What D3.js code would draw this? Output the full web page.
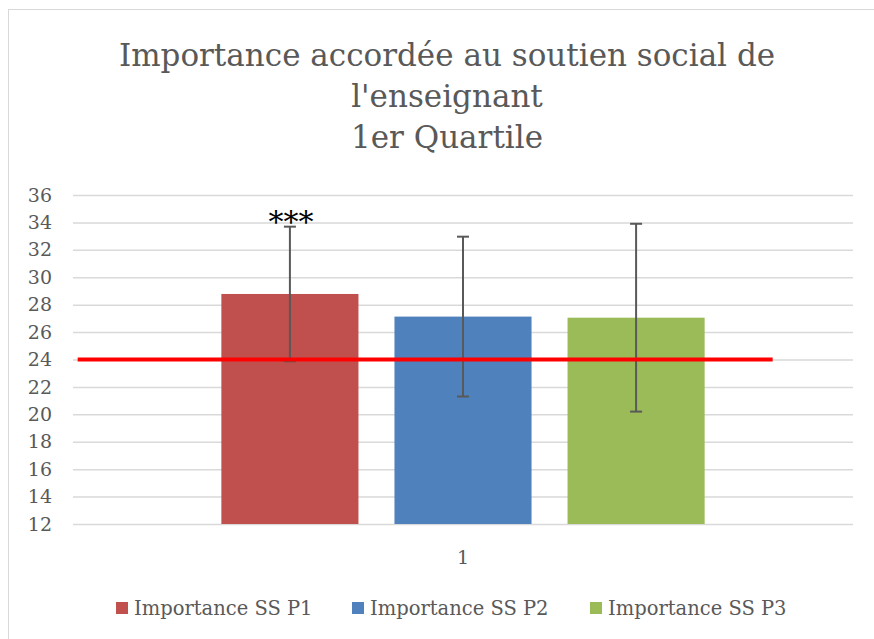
<!DOCTYPE html>
<html>
<head>
<meta charset="utf-8">
<script src="https://cdn.jsdelivr.net/npm/d3@7"></script>
<style>
  body { margin: 0; background: #fff; }
  svg { display: block; font-family: "DejaVu Serif", "Liberation Serif", serif; }
</style>
</head>
<body>
<svg id="chart" width="874" height="639"></svg>
<script>
// data
var categories = ['1'];
var seriesNames = ['Importance SS P1', 'Importance SS P2', 'Importance SS P3'];
var seriesColors = ['#c0504d', '#4f81bd', '#9bbb59'];
var means = [28.78, 27.13, 27.05];
var errors = [4.91, 5.83, 6.85];
var marks = ['***', '', ''];
var threshold = 24;
var yTicks = [12, 14, 16, 18, 20, 22, 24, 26, 28, 30, 32, 34, 36];
var titleLines = ['Importance accordée au soutien social de', "l'enseignant", '1er Quartile'];

var svg = d3.select('#chart');

// chart frame (only top and left edges show in the picture)
svg.append('rect')
    .attr('x', 8.5).attr('y', 9.5)
    .attr('width', 900).attr('height', 700)
    .attr('fill', 'none')
    .attr('stroke', '#d9d9d9');

var plotL = 73, plotR = 853, plotT = 195, plotB = 524;

var y = d3.scaleLinear().domain([12, 36]).range([plotB, plotT]);
var x0 = d3.scaleBand().domain(categories).range([plotL, plotR]).paddingInner(0).paddingOuter(0.307);
var x1 = d3.scaleBand().domain(seriesNames).range([0, x0.bandwidth()]).paddingInner(0.208).paddingOuter(0);

// title
svg.append('g').selectAll('text')
    .data(titleLines)
    .enter().append('text')
    .attr('x', 447)
    .attr('y', function (d, i) { return 66 + i * 41; })
    .attr('text-anchor', 'middle')
    .attr('font-size', 31)
    .attr('fill', '#595959')
    .text(function (d) { return d; });

// grid
var yAxis = d3.axisLeft(y).tickValues(yTicks).tickSize(-(plotR - plotL)).tickPadding(21);
var gy = svg.append('g')
    .attr('transform', 'translate(' + plotL + ',0)')
    .call(yAxis);
gy.select('.domain').remove();
gy.selectAll('.tick line').attr('stroke', '#d9d9d9').attr('stroke-width', 1.5);
gy.selectAll('.tick text')
    .attr('fill', '#595959')
    .attr('font-size', 19)
    .attr('font-family', '"DejaVu Serif", serif');

// bars
var rows = seriesNames.map(function (s, i) {
    return { name: s, color: seriesColors[i], mean: means[i], err: errors[i], mark: marks[i] };
});

var g = svg.append('g').attr('transform', 'translate(' + x0(categories[0]) + ',0)');

g.selectAll('rect.bar')
    .data(rows)
    .enter().append('rect')
    .attr('class', 'bar')
    .attr('x', function (d) { return x1(d.name); })
    .attr('y', function (d) { return y(d.mean); })
    .attr('width', x1.bandwidth())
    .attr('height', function (d) { return y(12) - y(d.mean); })
    .attr('fill', function (d) { return d.color; });

// error bars
function cx(d) { return x1(d.name) + x1.bandwidth() / 2; }
var eb = g.selectAll('g.err')
    .data(rows)
    .enter().append('g')
    .attr('class', 'err')
    .attr('stroke', '#595959')
    .attr('stroke-width', 2);
eb.append('line')
    .attr('x1', cx).attr('x2', cx)
    .attr('y1', function (d) { return y(d.mean + d.err); })
    .attr('y2', function (d) { return y(d.mean - d.err); });
eb.append('line')
    .attr('x1', function (d) { return cx(d) - 6; })
    .attr('x2', function (d) { return cx(d) + 6; })
    .attr('y1', function (d) { return y(d.mean + d.err); })
    .attr('y2', function (d) { return y(d.mean + d.err); });
eb.append('line')
    .attr('x1', function (d) { return cx(d) - 6; })
    .attr('x2', function (d) { return cx(d) + 6; })
    .attr('y1', function (d) { return y(d.mean - d.err); })
    .attr('y2', function (d) { return y(d.mean - d.err); });

// significance marks
g.selectAll('text.mark')
    .data(rows)
    .enter().append('text')
    .attr('class', 'mark')
    .attr('x', function (d) { return cx(d) + 1; })
    .attr('y', function (d) { return y(d.mean + d.err) + 5; })
    .attr('text-anchor', 'middle')
    .attr('font-size', 30)
    .attr('fill', '#000')
    .text(function (d) { return d.mark; });

// reference line at 24
var xr = d3.scaleLinear().domain([0, 1]).range([plotL, plotR]);
svg.append('line')
    .attr('x1', xr(0.006)).attr('x2', xr(0.897))
    .attr('y1', y(threshold)).attr('y2', y(threshold))
    .attr('stroke', '#ff0000')
    .attr('stroke-width', 4);

// category axis label
svg.append('g').selectAll('text')
    .data(categories)
    .enter().append('text')
    .attr('x', function (d) { return x0(d) + x0.bandwidth() / 2; })
    .attr('y', 564)
    .attr('text-anchor', 'middle')
    .attr('font-size', 19)
    .attr('fill', '#595959')
    .text(function (d) { return d; });

// legend
var legendX = [116, 352, 590];
var lg = svg.append('g').selectAll('g')
    .data(rows)
    .enter().append('g')
    .attr('transform', function (d, i) { return 'translate(' + legendX[i] + ',602)'; });
lg.append('rect')
    .attr('width', 12).attr('height', 12)
    .attr('fill', function (d) { return d.color; });
lg.append('text')
    .attr('x', 18).attr('y', 13)
    .attr('font-size', 19.5)
    .attr('fill', '#595959')
    .text(function (d) { return d.name; });
</script>
</body>
</html>
